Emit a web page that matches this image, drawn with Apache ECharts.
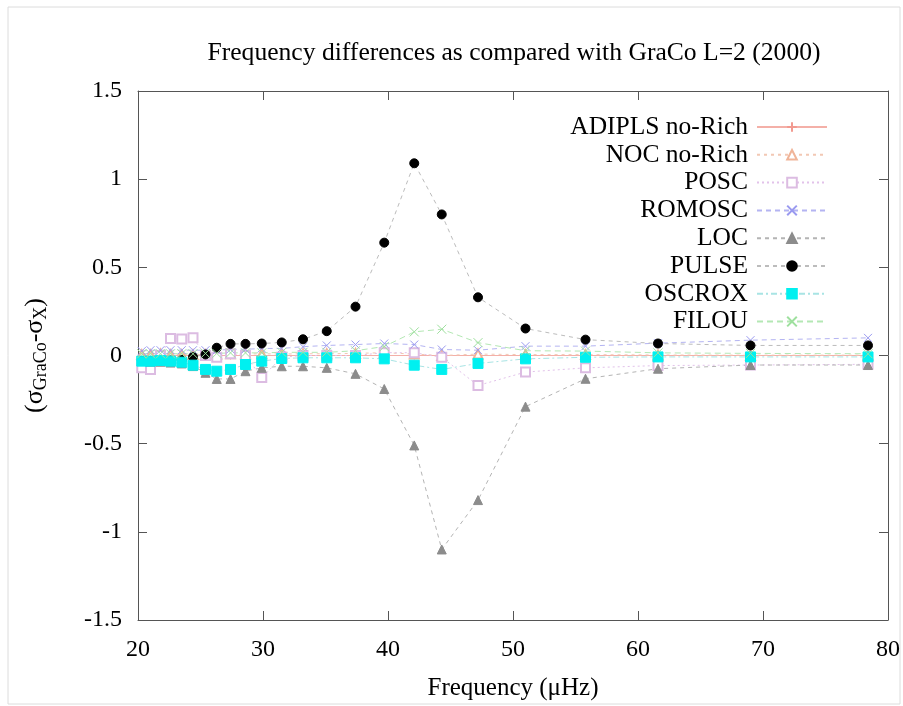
<!DOCTYPE html>
<html>
<head>
<meta charset="utf-8">
<script src="https://cdn.jsdelivr.net/npm/echarts@6/dist/echarts.min.js"></script>
<style>html,body{margin:0;padding:0;background:#fff}#c{width:903px;height:706px}</style>
</head>
<body>
<div id="c"></div>
<script>
// ---- data ----
const freq = [20.3, 21.0, 21.8, 22.6, 23.5, 24.4, 25.4, 26.3, 27.4, 28.6, 29.9, 31.5, 33.2, 35.1, 37.4, 39.7, 42.1, 44.3, 47.2, 51.0, 55.8, 61.6, 69.0, 78.4];
const adipls = [0, 0, 0, 0, 0, 0, 0, 0, 0, 0, 0, 0, 0, 0, 0, 0, 0, 0, 0, 0, 0, 0, 0, 0];
const noc = [0.005, 0.005, 0.008, 0.005, 0.005, 0.005, 0.005, 0.008, 0.01, 0.008, 0.01, 0.008, 0.01, 0.01, 0.012, 0.016, 0.008, 0.0, 0.008, 0.005, 0.005, 0.003, 0.002, 0.002];
const posc = [-0.07, -0.08, 0.0, 0.097, 0.094, 0.10, 0.0, -0.01, 0.01, 0.0, -0.125, -0.01, 0.0, 0.0, 0.0, 0.016, 0.016, -0.01, -0.17, -0.094, -0.07, -0.057, -0.054, -0.05];
const romosc = [0.025, 0.03, 0.03, 0.03, 0.03, 0.03, 0.03, 0.03, 0.035, 0.035, 0.04, 0.04, 0.05, 0.057, 0.062, 0.068, 0.062, 0.034, 0.03, 0.053, 0.053, 0.07, 0.087, 0.10];
const loc = [-0.03, -0.035, -0.035, -0.04, -0.045, -0.06, -0.098, -0.133, -0.133, -0.089, -0.07, -0.061, -0.061, -0.07, -0.104, -0.19, -0.51, -1.10, -0.82, -0.29, -0.132, -0.075, -0.054, -0.054];
const pulse = [-0.03, -0.03, -0.028, -0.028, -0.025, -0.008, 0.006, 0.044, 0.066, 0.066, 0.068, 0.074, 0.092, 0.138, 0.277, 0.64, 1.09, 0.80, 0.33, 0.153, 0.09, 0.068, 0.057, 0.057];
const oscrox = [-0.032, -0.032, -0.028, -0.032, -0.038, -0.055, -0.079, -0.089, -0.079, -0.051, -0.032, -0.017, -0.013, -0.013, -0.013, -0.019, -0.055, -0.079, -0.045, -0.019, -0.01, -0.008, -0.008, -0.008];
const filou = [0.01, 0.01, 0.01, 0.01, 0.01, 0.01, 0.012, 0.012, 0.015, 0.015, 0.015, 0.018, 0.018, 0.018, 0.027, 0.051, 0.134, 0.149, 0.073, 0.027, 0.025, 0.015, 0.012, 0.01];
const yTicks = [-1.5, -1, -0.5, 0, 0.5, 1, 1.5];
const xTicks = [20, 30, 40, 50, 60, 70, 80];
const titleText = 'Frequency differences as compared with GraCo L=2 (2000)';
// ---- chart ----
const FONT = '"Liberation Serif", "Times New Roman", serif';
const PLUS = 'path://M0,5L10,5M5,0L5,10';
const CROSS = 'path://M0,0L10,10M0,10L10,0';
function pairs(ys){ return freq.map((f,i)=>[f, ys[i]]); }
function mk(name, ys, color, lineColor, type, symbol, size){
  return {
    name, type:'line', data: pairs(ys), symbol, symbolSize: size,
    lineStyle:{color: lineColor, width:1, type: type},
    itemStyle:{color: color, borderColor: color, borderWidth: 1},
    emphasis:{disabled:true}, animation:false
  };
}
const series = [
  mk('ADIPLS no-Rich', adipls, '#f29a90', '#f4b0a8', 'solid', PLUS, 8),
  mk('NOC no-Rich', noc, '#f0b498', '#f2c8b4', [3,4], 'emptyTriangle', 9),
  mk('POSC', posc, '#dcbce2', '#e2c2ea', [2,3], 'emptyRect', 9),
  mk('ROMOSC', romosc, '#9a9af0', '#b4b4f2', [5,4], CROSS, 8),
  mk('LOC', loc, '#8c8c8c', '#b4b4b4', [4,4], 'triangle', 9),
  mk('PULSE', pulse, '#000000', '#bcbcbc', [4,4], 'circle', 9),
  mk('OSCROX', oscrox, '#00f0f0', '#a8e4e4', [6,3,2,3], 'rect', 10),
  mk('FILOU', filou, '#9ee09e', '#b4e8b4', [6,4], CROSS, 9)
];
const axisLine = {show:true, onZero:false, lineStyle:{color:'#555', width:1}};
const tick = {show:true, inside:true, length:9, lineStyle:{color:'#555'}};
const chart = echarts.init(document.getElementById('c'), null, {renderer:'canvas'});
chart.setOption({
  animation:false,
  backgroundColor:'#fff',
  textStyle:{fontFamily: FONT},
  title:{text: titleText, left: 509, top: 35, textAlign:'center',
    textStyle:{fontFamily: FONT, fontSize: 25.6, fontWeight:'normal', color:'#000'}},
  graphic:[{type:'rect', shape:{x:8, y:7, width:892, height:697}, style:{fill:'none', stroke:'#dcdcdc', lineWidth:1}, silent:true, z:-1}],
  grid:{left:138, right:15, top:91, bottom:85, containLabel:false},
  legend:{
    orient:'vertical', right:70, top:109, align:'right',
    itemWidth:70, itemHeight:12, itemGap:1.8,
    textStyle:{fontFamily: FONT, fontSize:25.5, lineHeight:24, color:'#000', padding:[0,4,0,0]},
    selectedMode:false,
    data: series.map(s=>s.name)
  },
  xAxis:[
    {type:'value', min: xTicks[0], max: xTicks[xTicks.length-1], interval: 10,
     axisLine, axisTick: tick, splitLine:{show:false},
     axisLabel:{fontFamily: FONT, fontSize:24, color:'#000', margin:18},
     name:'Frequency (\u03BCHz)', nameLocation:'middle', nameGap:56,
     nameTextStyle:{fontFamily: FONT, fontSize:25, color:'#000'}},
    {type:'value', position:'top', min: xTicks[0], max: xTicks[xTicks.length-1], interval:10,
     axisLine, axisTick: tick, axisLabel:{show:false}, splitLine:{show:false}}
  ],
  yAxis:[
    {type:'value', min: yTicks[0], max: yTicks[yTicks.length-1], interval:0.5,
     axisLine, axisTick: tick, splitLine:{show:false},
     axisLabel:{fontFamily: FONT, fontSize:24, color:'#000', margin:16},
     name:'(\u03C3{sub|GraCo}-\u03C3{sub|X})', nameLocation:'middle', nameRotate:90, nameGap:88,
     nameTextStyle:{fontFamily: FONT, fontSize:26, color:'#000',
       rich:{sub:{fontFamily: FONT, fontSize:18, color:'#000', padding:[12,0,0,0]}}}},
    {type:'value', position:'right', min: yTicks[0], max: yTicks[yTicks.length-1], interval:0.5,
     axisLine, axisTick: tick, axisLabel:{show:false}, splitLine:{show:false}}
  ],
  series
});
</script>
</body>
</html>
